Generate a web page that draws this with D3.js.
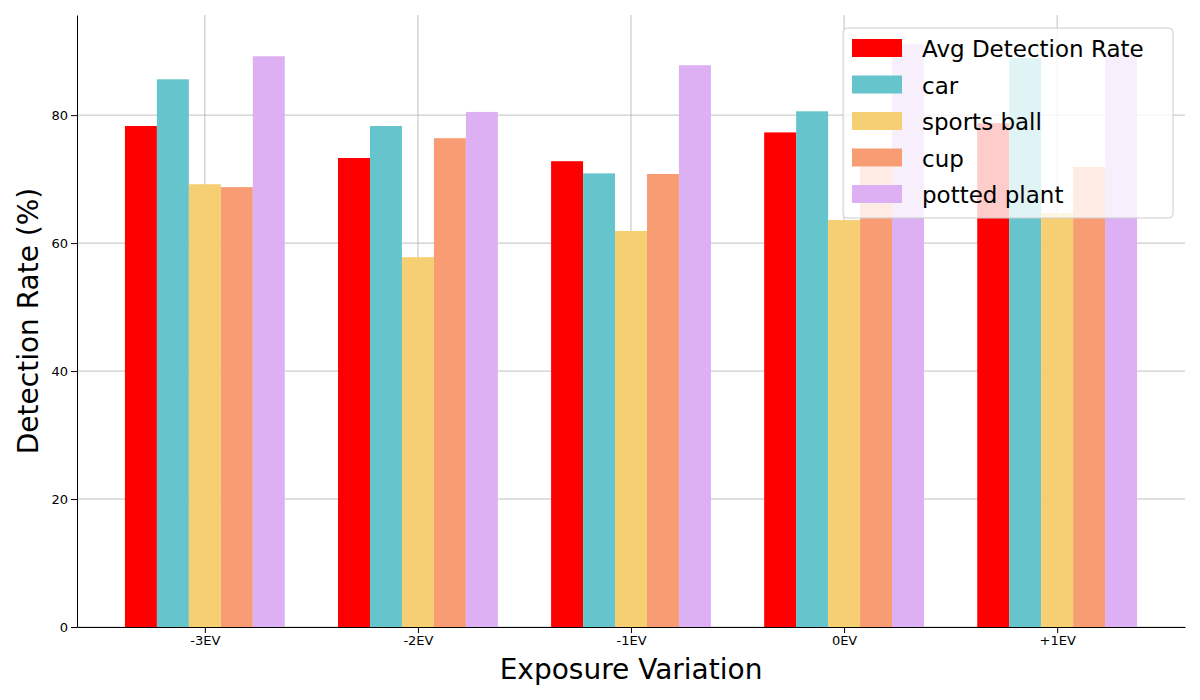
<!DOCTYPE html>
<html><head><meta charset="utf-8">
<script src="https://cdn.jsdelivr.net/npm/d3@7"></script>
<style>body{margin:0;background:#fff;font-family:"DejaVu Sans",sans-serif}</style>
</head><body><svg width="1200" height="700"></svg>
<script>
var categories = ['-3EV', '-2EV', '-1EV', '0EV', '+1EV'];
var seriesNames = ['Avg Detection Rate', 'car', 'sports ball', 'cup', 'potted plant'];
var colors = ['#ff0000', '#66c4cc', '#f6cf72', '#f89c74', '#dcb0f2'];
var avgRate = [78.3, 73.3, 72.8, 77.3, 78.75];
var car = [85.6, 78.3, 70.9, 80.6, 88.9];
var sportsBall = [69.2, 57.8, 61.9, 63.6, 64.7];
var cup = [68.75, 76.4, 70.8, 71.9, 71.9];
var pottedPlant = [89.2, 80.5, 87.8, 91.1, 89.7];
var yTicks = [0, 20, 40, 60, 80];
var series = [avgRate, car, sportsBall, cup, pottedPlant];

var svg = d3.select('svg'),
  margin = {top: 15, right: 15, bottom: 73, left: 77},
  width = 1200 - margin.left - margin.right,
  height = 700 - margin.top - margin.bottom;

var g = svg.append('g').attr('transform', 'translate(' + margin.left + ',' + margin.top + ')');

var bw = 0.15;
var x = d3.scaleLinear().domain([-0.6, 4.6]).range([0, width]);
var y = d3.scaleLinear().domain([0, 95.65]).range([height, 0]);

// grid
g.selectAll('.gx').data(categories).enter().append('line')
  .attr('x1', function(d, i) { return x(i); }).attr('x2', function(d, i) { return x(i); })
  .attr('y1', 0).attr('y2', height).attr('stroke', '#b0b0b0').attr('stroke-width', 0.8);
g.selectAll('.gy').data(yTicks).enter().append('line')
  .attr('x1', 0).attr('x2', width)
  .attr('y1', function(d) { return y(d); }).attr('y2', function(d) { return y(d); })
  .attr('stroke', '#b0b0b0').attr('stroke-width', 0.8);

series.forEach(function(vals, s) {
  g.selectAll('.bar' + s).data(vals).enter().append('rect')
    .attr('x', function(d, i) { return x(i + (s - 2) * bw - bw / 2); })
    .attr('y', function(d) { return y(d); })
    .attr('width', x(bw) - x(0))
    .attr('height', function(d) { return height - y(d); })
    .attr('fill', colors[s]);
});

var xa = g.append('g').attr('transform', 'translate(0,' + height + ')')
  .call(d3.axisBottom(x).tickValues(d3.range(categories.length)).tickFormat(function(i) { return categories[i]; }).tickSizeOuter(0));
var ya = g.append('g').call(d3.axisLeft(y).tickValues(yTicks).tickSizeOuter(0));
[xa, ya].forEach(function(a) {
  a.selectAll('text').attr('font-size', 13).attr('font-family', 'DejaVu Sans').attr('fill', '#000');
  a.selectAll('line').attr('stroke', '#000');
  a.select('.domain').attr('stroke', '#000');
});

svg.append('text').attr('x', margin.left + width / 2).attr('y', 679).attr('text-anchor', 'middle')
  .attr('font-size', 28).text('Exposure Variation');
svg.append('text').attr('transform', 'translate(38,' + (margin.top + height / 2) + ') rotate(-90)')
  .attr('text-anchor', 'middle').attr('font-size', 28).text('Detection Rate (%)');

// legend
var lg = svg.append('g').attr('transform', 'translate(843,28)');
lg.append('rect').attr('width', 330).attr('height', 190).attr('rx', 4)
  .attr('fill', 'rgba(255,255,255,0.8)').attr('stroke', '#ccc');
seriesNames.forEach(function(n, i) {
  lg.append('rect').attr('x', 9).attr('y', 11 + i * 36.5).attr('width', 50).attr('height', 18).attr('fill', colors[i]);
  lg.append('text').attr('x', 79).attr('y', 29 + i * 36.5).attr('font-size', 23).text(n);
});
</script></body></html>
